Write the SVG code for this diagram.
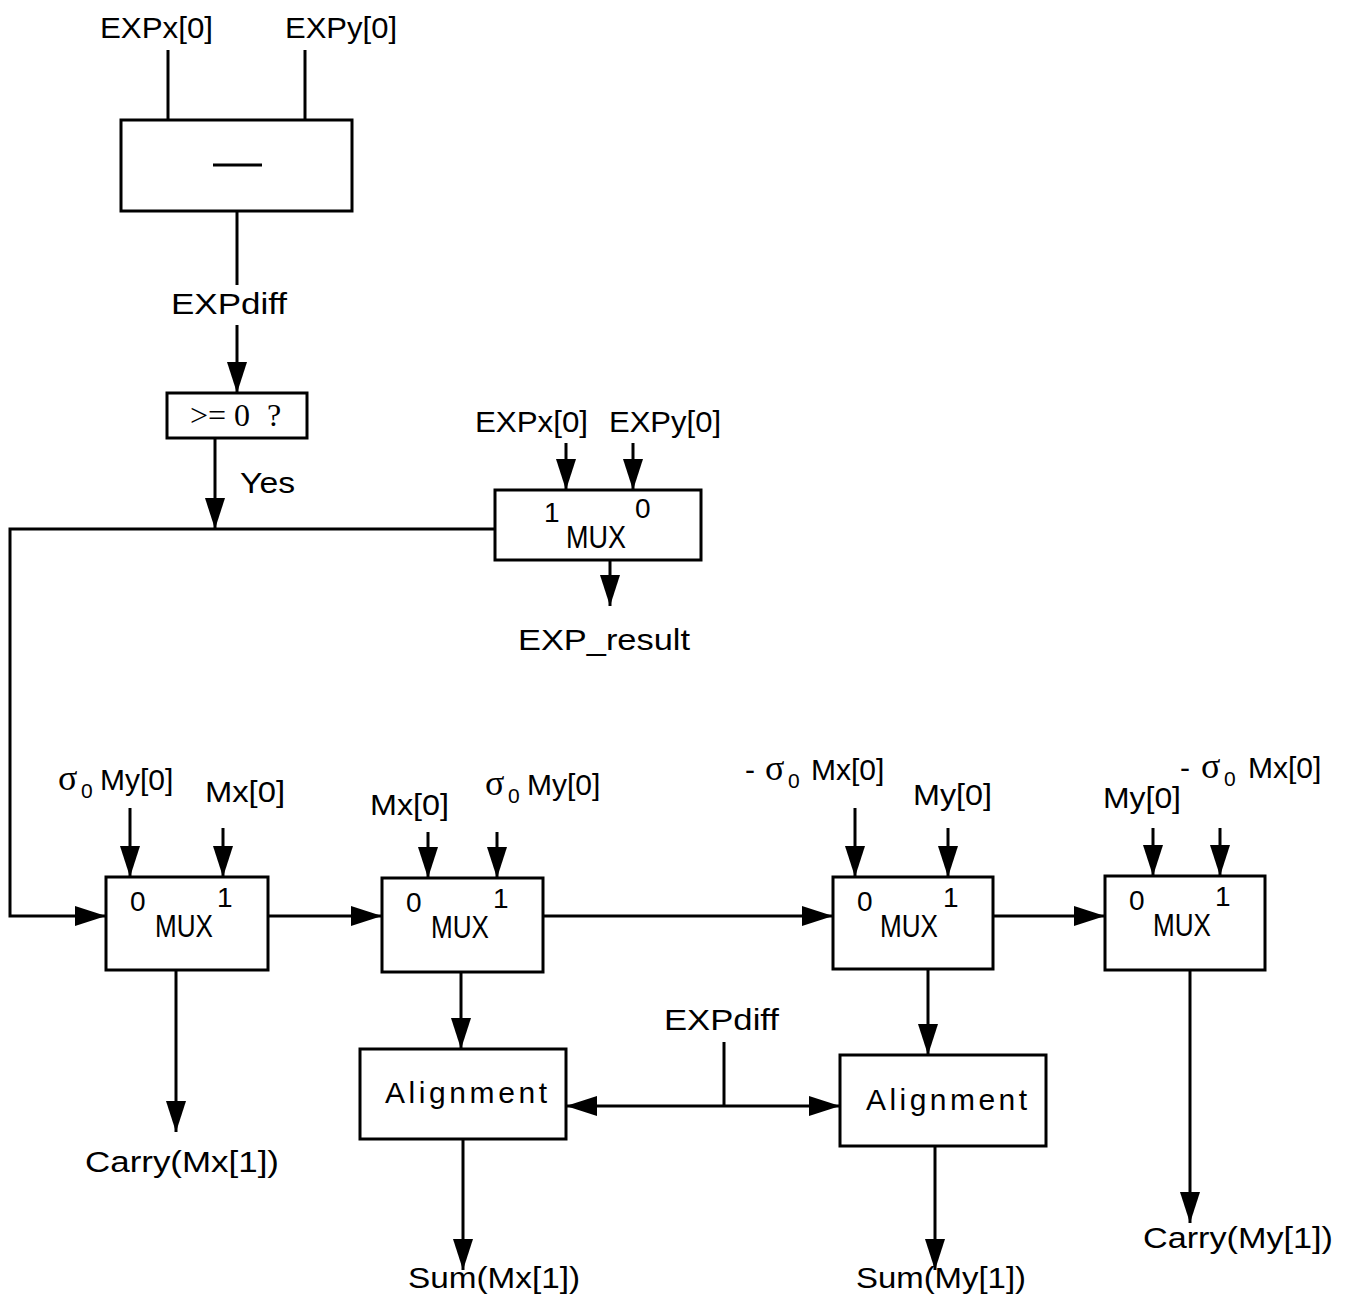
<svg xmlns="http://www.w3.org/2000/svg" width="1348" height="1300" viewBox="0 0 1348 1300">
<style>
.box{fill:#fff;stroke:#000;stroke-width:3}
.ln{fill:none;stroke:#000;stroke-width:3}
.ar{fill:none;stroke:#000;stroke-width:3;marker-end:url(#ah)}
text{font-family:"Liberation Sans",Arial,sans-serif;font-size:30px;fill:#000}
text.g, tspan.g{font-family:"Liberation Serif","Times New Roman",serif;font-size:36px}
tspan.sub{font-size:21px}
text.sup{font-size:28px}
text.mux{font-size:32px}
text.tm{font-family:"Liberation Serif","Times New Roman",serif;font-size:32px}
</style>
<defs>
<marker id="ah" markerUnits="userSpaceOnUse" markerWidth="32" markerHeight="22" refX="31" refY="11" orient="auto-start-reverse" viewBox="0 0 32 22">
<path d="M0,1 L31,11 L0,21 Z" fill="#000"/>
</marker>
</defs>
<g id="connectors">
<line class="ln" x1="168" y1="50" x2="168" y2="120"/>
<line class="ln" x1="305" y1="50" x2="305" y2="120"/>
<line class="ln" x1="237" y1="211" x2="237" y2="285"/>
<line class="ar" x1="237" y1="325" x2="237" y2="393"/>
<line class="ar" x1="215" y1="438" x2="215" y2="529"/>
<polyline class="ar" points="495,529 10,529 10,916 106,916"/>
<line class="ar" x1="566" y1="443" x2="566" y2="490"/>
<line class="ar" x1="633" y1="443" x2="633" y2="490"/>
<line class="ar" x1="610" y1="560" x2="610" y2="606"/>
<line class="ar" x1="130" y1="808" x2="130" y2="877"/>
<line class="ar" x1="223" y1="828" x2="223" y2="877"/>
<line class="ar" x1="428" y1="832" x2="428" y2="878"/>
<line class="ar" x1="497" y1="832" x2="497" y2="878"/>
<line class="ar" x1="855" y1="808" x2="855" y2="877"/>
<line class="ar" x1="948" y1="828" x2="948" y2="877"/>
<line class="ar" x1="1153" y1="828" x2="1153" y2="876"/>
<line class="ar" x1="1220" y1="828" x2="1220" y2="876"/>
<line class="ar" x1="268" y1="916" x2="382" y2="916"/>
<line class="ar" x1="543" y1="916" x2="833" y2="916"/>
<line class="ar" x1="993" y1="916" x2="1105" y2="916"/>
<line class="ar" x1="176" y1="970" x2="176" y2="1132"/>
<line class="ar" x1="461" y1="972" x2="461" y2="1049"/>
<line class="ar" x1="928" y1="969" x2="928" y2="1055"/>
<line class="ar" x1="1190" y1="970" x2="1190" y2="1223"/>
<line class="ln" x1="566" y1="1106" x2="840" y2="1106" style="marker-start:url(#ah);marker-end:url(#ah)"/>
<line class="ln" x1="724" y1="1042" x2="724" y2="1106"/>
<line class="ar" x1="463" y1="1139" x2="463" y2="1270"/>
<line class="ar" x1="935" y1="1146" x2="935" y2="1270"/>
</g>
<g id="labels">
<text x="100" y="38" textLength="113" lengthAdjust="spacingAndGlyphs">EXPx[0]</text>
<text x="285" y="38" textLength="112" lengthAdjust="spacingAndGlyphs">EXPy[0]</text>
<text x="171" y="314" textLength="116" lengthAdjust="spacingAndGlyphs">EXPdiff</text>
<text x="240" y="493" textLength="55" lengthAdjust="spacingAndGlyphs">Yes</text>
<text x="475" y="432" textLength="113" lengthAdjust="spacingAndGlyphs">EXPx[0]</text>
<text x="609" y="432" textLength="112" lengthAdjust="spacingAndGlyphs">EXPy[0]</text>
<text x="518" y="650" textLength="172" lengthAdjust="spacingAndGlyphs">EXP_result</text>
<text x="58" y="790"><tspan class="g">σ</tspan><tspan class="sub" x="81" dy="8">0</tspan><tspan x="100" dy="-8">My[0]</tspan></text>
<text x="205" y="802" textLength="80" lengthAdjust="spacingAndGlyphs">Mx[0]</text>
<text x="370" y="815" textLength="79" lengthAdjust="spacingAndGlyphs">Mx[0]</text>
<text x="485" y="795"><tspan class="g">σ</tspan><tspan class="sub" x="508" dy="8">0</tspan><tspan x="527" dy="-8">My[0]</tspan></text>
<text x="745" y="780">-<tspan class="g" x="765">σ</tspan><tspan class="sub" x="788" dy="8">0</tspan><tspan x="811" dy="-8">Mx[0]</tspan></text>
<text x="913" y="805" textLength="79" lengthAdjust="spacingAndGlyphs">My[0]</text>
<text x="1103" y="808" textLength="78" lengthAdjust="spacingAndGlyphs">My[0]</text>
<text x="1180" y="778">-<tspan class="g" x="1201">σ</tspan><tspan class="sub" x="1224" dy="8">0</tspan><tspan x="1248" dy="-8">Mx[0]</tspan></text>
<text x="85" y="1172" textLength="194" lengthAdjust="spacingAndGlyphs">Carry(Mx[1])</text>
<text x="664" y="1030" textLength="115" lengthAdjust="spacingAndGlyphs">EXPdiff</text>
<text x="408" y="1288" textLength="172" lengthAdjust="spacingAndGlyphs">Sum(Mx[1])</text>
<text x="856" y="1288" textLength="170" lengthAdjust="spacingAndGlyphs">Sum(My[1])</text>
<text x="1143" y="1248" textLength="190" lengthAdjust="spacingAndGlyphs">Carry(My[1])</text>
</g>
<g id="sub">
<rect class="box" x="121" y="120" width="231" height="91"/>
<line class="ln" x1="213" y1="165" x2="262" y2="165"/>
</g>
<g id="cmp">
<rect class="box" x="167" y="393" width="140" height="45"/>
<text class="tm" x="190" y="426">&gt;=<tspan x="234">0</tspan><tspan x="267">?</tspan></text>
</g>
<g id="expmux">
<rect class="box" x="495" y="490" width="206" height="70"/>
<text class="sup" x="544" y="522">1</text>
<text class="mux" x="566" y="548" textLength="60" lengthAdjust="spacingAndGlyphs">MUX</text>
<text class="sup" x="635" y="518">0</text>
</g>
<g id="mux1">
<rect class="box" x="106" y="877" width="162" height="93"/>
<text class="sup" x="130" y="911">0</text>
<text class="mux" x="155" y="937" textLength="58" lengthAdjust="spacingAndGlyphs">MUX</text>
<text class="sup" x="217" y="907">1</text>
</g>
<g id="mux2">
<rect class="box" x="382" y="878" width="161" height="94"/>
<text class="sup" x="406" y="912">0</text>
<text class="mux" x="431" y="938" textLength="58" lengthAdjust="spacingAndGlyphs">MUX</text>
<text class="sup" x="493" y="908">1</text>
</g>
<g id="mux3">
<rect class="box" x="833" y="877" width="160" height="92"/>
<text class="sup" x="857" y="911">0</text>
<text class="mux" x="880" y="937" textLength="58" lengthAdjust="spacingAndGlyphs">MUX</text>
<text class="sup" x="943" y="907">1</text>
</g>
<g id="mux4">
<rect class="box" x="1105" y="876" width="160" height="94"/>
<text class="sup" x="1129" y="910">0</text>
<text class="mux" x="1153" y="936" textLength="58" lengthAdjust="spacingAndGlyphs">MUX</text>
<text class="sup" x="1215" y="906">1</text>
</g>
<g id="align1">
<rect class="box" x="360" y="1049" width="206" height="90"/>
<text x="385" y="1103" textLength="162" lengthAdjust="spacing">Alignment</text>
</g>
<g id="align2">
<rect class="box" x="840" y="1055" width="206" height="91"/>
<text x="866" y="1110" textLength="161" lengthAdjust="spacing">Alignment</text>
</g>
</svg>
